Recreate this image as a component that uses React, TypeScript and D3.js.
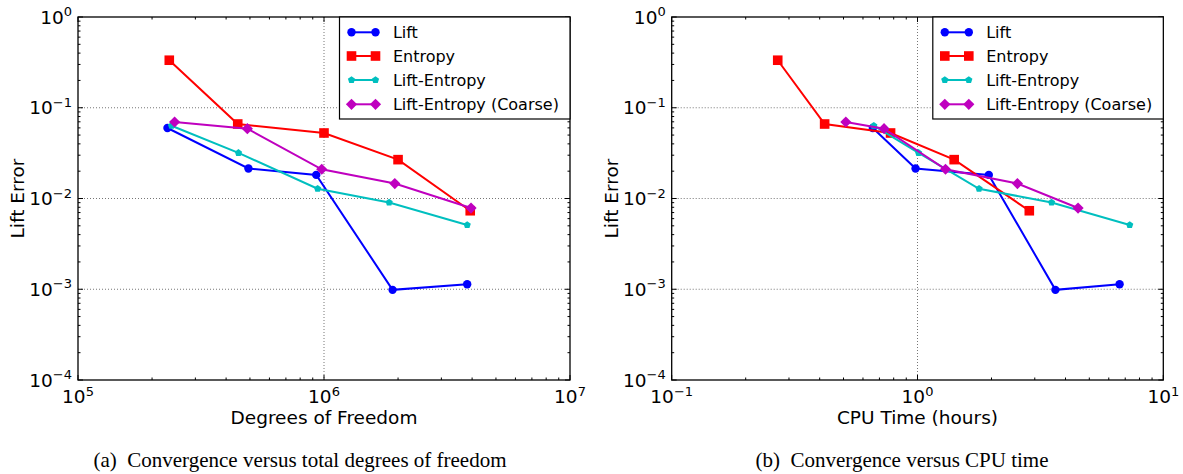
import React from "react";
import * as d3 from "d3";

// ---------- data ----------
const seriesNames = ["Lift", "Entropy", "Lift-Entropy", "Lift-Entropy (Coarse)"];

const dofLift = [2.31e5, 4.93e5, 9.3e5, 1.9e6, 3.82e6];
const dofEntropy = [2.35e5, 4.46e5, 1.0e6, 2.0e6, 3.93e6];
const dofLiftEntropy = [2.4e5, 4.49e5, 9.42e5, 1.84e6, 3.82e6];
const dofCoarse = [2.47e5, 4.88e5, 9.79e5, 1.94e6, 3.96e6];

const cpuLift = [0.658, 0.982, 1.95, 3.64, 6.64];
const cpuEntropy = [0.27, 0.419, 0.777, 1.41, 2.85];
const cpuLiftEntropy = [0.664, 1.01, 1.78, 3.51, 7.3];
const cpuCoarse = [0.511, 0.731, 1.3, 2.55, 4.5];

const errLift = [0.0598, 0.0214, 0.0182, 0.000985, 0.001135];
const errEntropy = [0.334, 0.0662, 0.0527, 0.0268, 0.00733];
const errLiftEntropy = [0.0634, 0.0318, 0.0128, 0.00904, 0.0051];
const errCoarse = [0.0697, 0.0588, 0.021, 0.0146, 0.00785];

const yTickExps = [0, -1, -2, -3, -4];
const xTickExpsA = [5, 6, 7];
const xTickExpsB = [-1, 0, 1];

const captionA = ["(a)", "Convergence versus total degrees of freedom"];
const captionB = ["(b)", "Convergence versus CPU time"];

// ---------- styles ----------
const colors = ["#0000ff", "#ff0000", "#00bfbf", "#bf00bf"];
const markers = ["circle", "square", "pentagon", "diamond"];
const SANS = "DejaVu Sans, Verdana, sans-serif";
const SERIF = "Liberation Serif, Times New Roman, serif";

function Marker({ type, x, y, color }: { type: string; x: number; y: number; color: string }) {
  if (type === "circle") return <circle cx={x} cy={y} r={4.2} fill={color} />;
  if (type === "square") return <rect x={x - 4.8} y={y - 4.8} width={9.6} height={9.6} fill={color} />;
  if (type === "diamond") {
    const r = 5.6;
    return <polygon points={`${x},${y - r} ${x + r},${y} ${x},${y + r} ${x - r},${y}`} fill={color} />;
  }
  // pentagon
  const r = 3.8;
  const pts = d3.range(5).map((i) => {
    const a = -Math.PI / 2 + (i * 2 * Math.PI) / 5;
    return `${x + r * Math.cos(a)},${y + r * Math.sin(a)}`;
  });
  return <polygon points={pts.join(" ")} fill={color} />;
}

function expLabel(e: number) {
  return (e < 0 ? "\u2212" : "") + Math.abs(e);
}

type PanelProps = {
  x0: number;
  x1: number;
  xDomain: [number, number];
  xExps: number[];
  xs: number[][];
  xLabel: string;
  caption: string[];
  captionX: number;
};

function Panel({ x0, x1, xDomain, xExps, xs, xLabel, caption, captionX }: PanelProps) {
  const top = 17;
  const bottom = 380;
  const xScale = d3.scaleLog().domain(xDomain).range([x0, x1]);
  const yScale = d3.scaleLog().domain([1e-4, 1]).range([bottom, top]);
  const errs = [errLift, errEntropy, errLiftEntropy, errCoarse];
  const line = d3
    .line<[number, number]>()
    .x((d) => xScale(d[0]))
    .y((d) => yScale(d[1]));

  const xMajor = xExps.map((e) => Math.pow(10, e));
  const yMajor = yTickExps.map((e) => Math.pow(10, e));
  const xMinor: number[] = [];
  for (let i = 0; i < xMajor.length - 1; i++) for (let k = 2; k <= 9; k++) xMinor.push(xMajor[i] * k);
  const yMinor: number[] = [];
  for (let e = -4; e < 0; e++) for (let k = 2; k <= 9; k++) yMinor.push(Math.pow(10, e) * k);

  const legW = 230.5;
  const legX = x1 - legW;
  const legY = top;
  const rowY = [32.3, 56, 80, 104.3];

  return (
    <g>
      {/* grid */}
      {xMajor.slice(1, -1).map((v, i) => (
        <line key={"gx" + i} x1={xScale(v)} x2={xScale(v)} y1={top} y2={bottom} stroke="#666" strokeWidth={0.9} strokeDasharray="1,2" />
      ))}
      {yMajor.slice(1, -1).map((v, i) => (
        <line key={"gy" + i} x1={x0} x2={x1} y1={yScale(v)} y2={yScale(v)} stroke="#666" strokeWidth={0.9} strokeDasharray="1,2" />
      ))}
      {/* ticks */}
      {xMajor.map((v, i) => (
        <g key={"tx" + i}>
          <line x1={xScale(v)} x2={xScale(v)} y1={bottom} y2={bottom - 5} stroke="#000" />
          <line x1={xScale(v)} x2={xScale(v)} y1={top} y2={top + 5} stroke="#000" />
        </g>
      ))}
      {xMinor.map((v, i) => (
        <g key={"tmx" + i}>
          <line x1={xScale(v)} x2={xScale(v)} y1={bottom} y2={bottom - 2.5} stroke="#000" />
          <line x1={xScale(v)} x2={xScale(v)} y1={top} y2={top + 2.5} stroke="#000" />
        </g>
      ))}
      {yMajor.map((v, i) => (
        <g key={"ty" + i}>
          <line x1={x0} x2={x0 + 5} y1={yScale(v)} y2={yScale(v)} stroke="#000" />
          <line x1={x1} x2={x1 - 5} y1={yScale(v)} y2={yScale(v)} stroke="#000" />
        </g>
      ))}
      {yMinor.map((v, i) => (
        <g key={"tmy" + i}>
          <line x1={x0} x2={x0 + 2.5} y1={yScale(v)} y2={yScale(v)} stroke="#000" />
          <line x1={x1} x2={x1 - 2.5} y1={yScale(v)} y2={yScale(v)} stroke="#000" />
        </g>
      ))}
      {/* series */}
      {xs.map((xv, si) => {
        const pts = xv.map((v, i) => [v, errs[si][i]] as [number, number]);
        return (
          <g key={"s" + si}>
            <path d={line(pts) || ""} fill="none" stroke={colors[si]} strokeWidth={2} />
            {pts.map((p, i) => (
              <Marker key={i} type={markers[si]} x={xScale(p[0])} y={yScale(p[1])} color={colors[si]} />
            ))}
          </g>
        );
      })}
      {/* frame */}
      <rect x={x0} y={top} width={x1 - x0} height={bottom - top} fill="none" stroke="#000" strokeWidth={1.3} />
      {/* tick labels */}
      {yTickExps.map((e, i) => (
        <text key={"yl" + i} x={x0 - 6} y={yScale(Math.pow(10, e)) + 6.5} textAnchor="end" fontFamily={SANS} fontSize={18.5} fill="#000">
          10
          <tspan fontSize={13} dy={-7.5}>{expLabel(e)}</tspan>
        </text>
      ))}
      {xExps.map((e, i) => (
        <text key={"xl" + i} x={xScale(Math.pow(10, e))} y={bottom + 23} textAnchor="middle" fontFamily={SANS} fontSize={18.5} fill="#000">
          10
          <tspan fontSize={13} dy={-7.5}>{expLabel(e)}</tspan>
        </text>
      ))}
      {/* axis labels */}
      <text x={(x0 + x1) / 2} y={bottom + 44} textAnchor="middle" fontFamily={SANS} fontSize={18.5} fill="#000">
        {xLabel}
      </text>
      <text
        transform={`translate(${x0 - 54},${(top + bottom) / 2}) rotate(-90)`}
        textAnchor="middle"
        fontFamily={SANS}
        fontSize={18.5}
        fill="#000"
      >
        Lift Error
      </text>
      {/* legend */}
      <rect x={legX} y={legY} width={legW} height={102} fill="#fff" stroke="#000" strokeWidth={1.2} />
      {seriesNames.map((n, i) => (
        <g key={"lg" + i}>
          <line x1={legX + 12} x2={legX + 36} y1={rowY[i]} y2={rowY[i]} stroke={colors[i]} strokeWidth={2} />
          <Marker type={markers[i]} x={legX + 12} y={rowY[i]} color={colors[i]} />
          <Marker type={markers[i]} x={legX + 36} y={rowY[i]} color={colors[i]} />
          <text x={legX + 53.4} y={rowY[i] + 5.8} fontFamily={SANS} fontSize={16} fill="#000">
            {n}
          </text>
        </g>
      ))}
      {/* caption */}
      <text x={captionX} y={467} textAnchor="middle" fontFamily={SERIF} fontSize={21} fill="#000">
        {caption[0] + "\u00a0\u00a0" + caption[1]}
      </text>
    </g>
  );
}

export default function App() {
  return (
    <div style={{ position: "absolute", left: 0, top: 0, width: 1183, height: 474, background: "#fff" }}>
      <svg width={1183} height={474} style={{ display: "block" }}>
        <rect width={1183} height={474} fill="#fff" />
        <Panel
          x0={78}
          x1={570}
          xDomain={[1e5, 1e7]}
          xExps={xTickExpsA}
          xs={[dofLift, dofEntropy, dofLiftEntropy, dofCoarse]}
          xLabel="Degrees of Freedom"
          caption={captionA}
          captionX={300}
        />
        <Panel
          x0={671.7}
          x1={1163.3}
          xDomain={[0.1, 10]}
          xExps={xTickExpsB}
          xs={[cpuLift, cpuEntropy, cpuLiftEntropy, cpuCoarse]}
          xLabel="CPU Time (hours)"
          caption={captionB}
          captionX={902}
        />
      </svg>
    </div>
  );
}
